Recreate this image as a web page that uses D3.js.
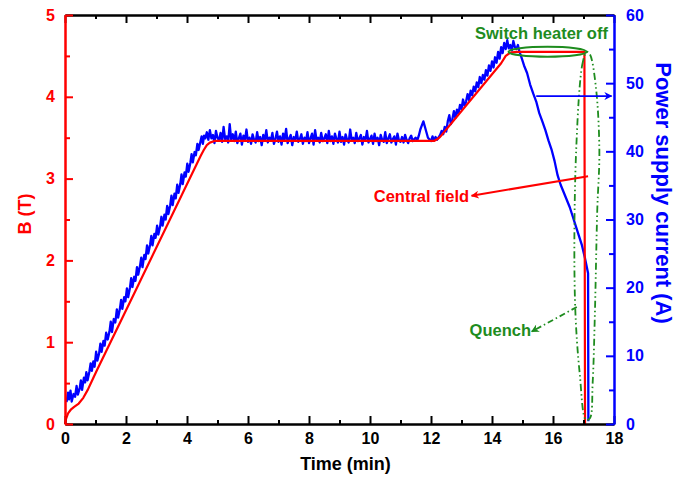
<!DOCTYPE html>
<html>
<head>
<meta charset="utf-8">
<script src="https://cdn.jsdelivr.net/npm/d3@7"></script>
<style>
  body { margin: 0; background: #fff; }
  svg text { font-family: "Liberation Sans", Arial, sans-serif; font-weight: bold; }
</style>
</head>
<body>
<div id="vis-holder"></div>
<script>
// tick values
const timeTicks = [0, 2, 4, 6, 8, 10, 12, 14, 16, 18];
const timeMinor = [1, 3, 5, 7, 9, 11, 13, 15, 17];
const fieldTicks = [0, 1, 2, 3, 4, 5];
const fieldMinor = [0.5, 1.5, 2.5, 3.5, 4.5];
const currentTicks = [0, 10, 20, 30, 40, 50, 60];
const currentMinor = [5, 15, 25, 35, 45, 55];

// central field B (T) vs time (min)
const fieldData = [
  [0, 0], [0.04, 0.07], [0.1, 0.13], [0.2, 0.18], [0.3, 0.21], [0.45, 0.25],
  [0.6, 0.32], [0.75, 0.42], [0.9, 0.54], [1.05, 0.66], [2.3, 1.62], [4.45, 3.28],
  [4.55, 3.35], [4.65, 3.41], [4.75, 3.44], [4.9, 3.46], [12.1, 3.46], [12.2, 3.48],
  [12.3, 3.51], [14.3, 4.41], [14.45, 4.5], [14.6, 4.54], [14.8, 4.55], [17.03, 4.55],
  [17.05, 0]
];

// power supply current (A) vs time (min)
const currentData = [
  // first ramp
  [0.05, 3.2], [0.1, 4.6], [0.13, 3.6], [0.18, 4.9], [0.22, 3.3], [0.28, 4.4], [0.33, 4.0],
  [0.38, 5.6], [0.42, 4.3], [0.48, 5.2], [0.52, 6.4], [0.56, 5.0], [0.62, 6.8], [0.66, 6.1],
  [0.7, 7.6], [0.74, 6.4], [0.8, 7.7], [0.84, 8.9], [0.88, 7.8], [0.93, 9.2], [0.97, 8.4],
  [1.02, 10.6], [1.06, 9.3], [1.12, 10.4], [1.16, 11.8], [1.2, 10.6], [1.26, 12.2], [1.3, 11.5],
  [1.35, 13.4], [1.4, 12.4], [1.46, 13.6], [1.5, 15.0], [1.54, 13.5], [1.6, 15.4], [1.65, 14.9],
  [1.7, 16.8], [1.74, 15.6], [1.8, 16.9], [1.84, 18.2], [1.88, 16.9], [1.94, 18.6], [1.98, 18.0],
  [2.03, 19.9], [2.07, 18.6], [2.13, 20.0], [2.17, 21.4], [2.21, 20.1], [2.27, 21.6], [2.31, 21.0],
  [2.36, 23.0], [2.4, 21.9], [2.46, 23.2], [2.5, 24.4], [2.54, 23.0], [2.6, 24.8], [2.64, 24.2],
  [2.69, 26.2], [2.73, 25.0], [2.79, 26.3], [2.83, 27.6], [2.87, 26.2], [2.93, 27.9], [2.97, 27.3],
  [3.02, 29.1], [3.06, 27.8], [3.12, 29.0], [3.16, 30.4], [3.2, 29.1], [3.26, 30.7], [3.3, 30.0],
  [3.35, 32.0], [3.39, 30.8], [3.45, 32.1], [3.49, 33.5], [3.53, 32.1], [3.59, 33.8], [3.63, 33.1],
  [3.68, 35.1], [3.72, 33.9], [3.78, 35.2], [3.82, 36.6], [3.86, 35.2], [3.92, 36.9], [3.96, 36.3],
  [4.01, 38.2], [4.05, 37.0], [4.11, 38.3], [4.15, 39.6], [4.19, 38.4], [4.25, 39.9], [4.29, 39.4],
  [4.34, 41.1], [4.38, 40.2], [4.44, 41.4], [4.48, 42.2], [4.52, 41.1], [4.56, 42.3],
  // first plateau
  [4.6, 41.9], [4.65, 42.8], [4.7, 41.7], [4.75, 43.1], [4.8, 41.9], [4.85, 42.4], [4.9, 41.2],
  [4.95, 43.0], [5.0, 42.0], [5.05, 41.6], [5.1, 42.7], [5.15, 41.4], [5.2, 43.6], [5.25, 41.8],
  [5.3, 42.2], [5.35, 41.3], [5.4, 44.0], [5.45, 41.7], [5.5, 42.5], [5.55, 41.5], [5.6, 42.9],
  [5.65, 41.2], [5.7, 41.9], [5.75, 42.6], [5.8, 41.0], [5.85, 42.3], [5.9, 41.6], [5.95, 43.2],
  [6.0, 41.4], [6.05, 42.0], [6.1, 41.1], [6.15, 42.5], [6.2, 41.7], [6.25, 41.3], [6.3, 42.8],
  [6.35, 41.5], [6.4, 42.1], [6.45, 40.9], [6.5, 42.4], [6.55, 41.6], [6.6, 43.1], [6.65, 41.3],
  [6.7, 42.0], [6.75, 41.6], [6.8, 42.7], [6.85, 41.1], [6.9, 41.8], [6.95, 42.9], [7.0, 41.4],
  [7.05, 42.2], [7.1, 41.0], [7.15, 42.6], [7.2, 41.7], [7.25, 43.3], [7.3, 41.2], [7.35, 41.9],
  [7.4, 42.4], [7.45, 40.9], [7.5, 42.1], [7.55, 41.6], [7.6, 42.9], [7.65, 41.4], [7.7, 41.8],
  [7.75, 42.5], [7.8, 41.1], [7.85, 42.0], [7.9, 41.5], [7.95, 42.8], [8.0, 41.2], [8.05, 41.9],
  [8.1, 42.6], [8.15, 41.0], [8.2, 43.1], [8.25, 41.6], [8.3, 42.0], [8.35, 41.3], [8.4, 42.7],
  [8.45, 41.5], [8.5, 41.9], [8.55, 42.5], [8.6, 41.2], [8.65, 43.0], [8.7, 41.5], [8.75, 42.2],
  [8.8, 41.1], [8.85, 42.6], [8.9, 41.8], [8.95, 41.3], [9.0, 42.9], [9.05, 41.4], [9.1, 42.1],
  [9.15, 41.0], [9.2, 42.5], [9.25, 41.7], [9.3, 41.3], [9.35, 43.2], [9.4, 41.6], [9.45, 42.0],
  [9.5, 41.2], [9.55, 42.7], [9.6, 41.5], [9.65, 41.9], [9.7, 42.4], [9.75, 41.0], [9.8, 42.1],
  [9.85, 41.6], [9.9, 43.0], [9.95, 41.3], [10.0, 41.8], [10.05, 42.3], [10.1, 41.1], [10.15, 42.6],
  [10.2, 41.5], [10.25, 42.0], [10.3, 40.9], [10.35, 42.4], [10.4, 41.7], [10.45, 41.4], [10.5, 42.8],
  [10.55, 41.2], [10.6, 41.9], [10.65, 42.5], [10.7, 41.3], [10.75, 41.8], [10.8, 42.2], [10.85, 41.0],
  [10.9, 42.6], [10.95, 41.6], [11.0, 41.4], [11.05, 42.1], [11.1, 41.3], [11.15, 42.4], [11.2, 41.7],
  [11.25, 41.2], [11.3, 41.9], [11.35, 42.3], [11.4, 41.5], [11.45, 41.8], [11.5, 42.0], [11.55, 41.6],
  [11.6, 42.3], [11.65, 43.2], [11.7, 43.8], [11.75, 44.4], [11.8, 43.6], [11.85, 42.8], [11.9, 42.0],
  [12.0, 41.5], [12.05, 42.2], [12.1, 41.6], [12.15, 42.1], [12.2, 41.7], [12.3, 42.4],
  // second ramp
  [12.35, 43.0], [12.4, 42.5], [12.45, 43.6], [12.5, 42.9], [12.55, 44.4], [12.6, 45.3], [12.65, 44.0],
  [12.7, 44.7], [12.75, 45.9], [12.8, 44.9], [12.85, 46.1], [12.9, 45.5], [12.95, 46.8], [13.0, 46.2],
  [13.05, 47.6], [13.1, 46.7], [13.15, 47.3], [13.2, 48.4], [13.25, 47.5], [13.3, 48.9], [13.35, 48.2],
  [13.4, 49.5], [13.45, 48.8], [13.5, 50.1], [13.55, 49.4], [13.6, 50.9], [13.65, 50.0], [13.7, 51.2],
  [13.75, 50.5], [13.8, 51.9], [13.85, 51.1], [13.9, 52.6], [13.95, 51.8], [14.0, 53.2], [14.05, 52.3],
  [14.1, 53.8], [14.15, 53.0], [14.2, 54.6], [14.25, 53.6], [14.3, 55.3], [14.35, 54.4], [14.4, 55.9],
  [14.45, 55.0], [14.5, 56.3], [14.55, 55.1], [14.6, 55.6], [14.65, 54.8], [14.7, 56.2], [14.75, 55.3],
  [14.8, 55.0], [14.85, 55.6], [14.9, 54.6],
  // discharge and quench
  [14.95, 54.0], [15.05, 52.6], [15.15, 51.5], [15.25, 49.8], [15.35, 48.5], [15.45, 47.3],
  [15.55, 45.6], [15.65, 44.4], [15.75, 43.1], [15.85, 41.6], [15.95, 40.3], [16.05, 38.6],
  [16.15, 36.5], [16.25, 35.1], [16.35, 34.0], [16.45, 32.9], [16.55, 31.8], [16.65, 30.4],
  [16.75, 29.0], [16.85, 27.6], [16.95, 26.2], [17.05, 24.3], [17.15, 22.1], [17.16, 0.4]
];

const red = "#ff0000", blue = "#0000ff", green = "#1e8c1e";

const width = 686, height = 478;
const margin = { top: 15, right: 72, bottom: 54, left: 65 };

const svg = d3.select("#vis-holder")
  .append("svg")
  .attr("width", width)
  .attr("height", height);

const x = d3.scaleLinear().domain([0, 18]).range([margin.left, width - margin.right]);
const yB = d3.scaleLinear().domain([0, 5]).range([height - margin.bottom, margin.top]);
const yI = d3.scaleLinear().domain([0, 60]).range([height - margin.bottom, margin.top]);

const defs = svg.append("defs");
function marker(id, color) {
  defs.append("marker")
    .attr("id", id)
    .attr("viewBox", "0 0 10 10")
    .attr("refX", 9).attr("refY", 5)
    .attr("markerWidth", 12).attr("markerHeight", 8)
    .attr("markerUnits", "userSpaceOnUse")
    .attr("orient", "auto")
    .append("path")
    .attr("d", "M0,0 L10,5 L0,10 L3,5 Z")
    .attr("fill", color);
}
marker("arrRed", red);
marker("arrBlue", blue);
marker("arrGreen", green);

// curves
const lineB = d3.line().x(d => x(d[0])).y(d => yB(d[1]));
const lineI = d3.line().x(d => x(d[0])).y(d => yI(d[1]));

svg.append("path")
  .datum(currentData)
  .attr("d", lineI)
  .attr("fill", "none")
  .attr("stroke", blue)
  .attr("stroke-width", 2.3)
  .attr("stroke-linejoin", "round");

svg.append("path")
  .datum(fieldData)
  .attr("d", lineB)
  .attr("fill", "none")
  .attr("stroke", red)
  .attr("stroke-width", 2.2)
  .attr("stroke-linejoin", "round");

// axes
function styleAxis(g, color, size) {
  g.select(".domain").attr("stroke", color).attr("stroke-width", 2);
  g.selectAll(".tick line").attr("stroke", color).attr("stroke-width", 2);
  g.selectAll(".tick text").attr("fill", color).attr("font-size", size);
  g.attr("font-family", null);
}

const bottom = height - margin.bottom;
svg.append("g")
  .attr("transform", `translate(0,${bottom})`)
  .call(d3.axisBottom(x).tickValues(timeMinor).tickSize(-4).tickSizeOuter(0).tickFormat(""))
  .call(g => styleAxis(g, "#000", 16));
svg.append("g")
  .attr("transform", `translate(0,${bottom})`)
  .call(d3.axisBottom(x).tickValues(timeTicks).tickSize(-8).tickSizeOuter(0).tickPadding(9))
  .call(g => styleAxis(g, "#000", 16));

svg.append("g")
  .attr("transform", `translate(0,${margin.top})`)
  .call(d3.axisTop(x).tickValues(timeMinor).tickSize(-4).tickSizeOuter(0).tickFormat(""))
  .call(g => styleAxis(g, "#000", 16));
svg.append("g")
  .attr("transform", `translate(0,${margin.top})`)
  .call(d3.axisTop(x).tickValues(timeTicks).tickSize(-8).tickSizeOuter(0).tickFormat(""))
  .call(g => styleAxis(g, "#000", 16));

svg.append("g")
  .attr("transform", `translate(${margin.left},0)`)
  .call(d3.axisLeft(yB).tickValues(fieldMinor).tickSize(-5).tickSizeOuter(0).tickFormat(""))
  .call(g => styleAxis(g, red, 16));
svg.append("g")
  .attr("transform", `translate(${margin.left},0)`)
  .call(d3.axisLeft(yB).tickValues(fieldTicks).tickSize(-8).tickSizeOuter(0).tickPadding(10)
    .tickFormat(d3.format("d")))
  .call(g => styleAxis(g, red, 16));

const right = width - margin.right;
svg.append("g")
  .attr("transform", `translate(${right},0)`)
  .call(d3.axisRight(yI).tickValues(currentMinor).tickSize(-5).tickSizeOuter(0).tickFormat(""))
  .call(g => styleAxis(g, blue, 16));
svg.append("g")
  .attr("transform", `translate(${right},0)`)
  .call(d3.axisRight(yI).tickValues(currentTicks).tickSize(-8).tickSizeOuter(0).tickPadding(12))
  .call(g => styleAxis(g, blue, 16));

// axis titles
svg.append("text")
  .attr("x", (margin.left + right) / 2 + 6)
  .attr("y", 470)
  .attr("text-anchor", "middle")
  .attr("font-size", 18)
  .attr("fill", "#000")
  .text("Time (min)");

svg.append("text")
  .attr("transform", "translate(31,214) rotate(-90)")
  .attr("text-anchor", "middle")
  .attr("font-size", 18)
  .attr("fill", red)
  .text("B (T)");

svg.append("text")
  .attr("transform", "translate(656,193) rotate(90)")
  .attr("text-anchor", "middle")
  .attr("font-size", 22)
  .attr("fill", blue)
  .text("Power supply current (A)");

// annotations (positions in data units: time, B)
const heaterEllipse = { t: 15.82, b: 4.55, rt: 1.28, rb: 0.061 };
svg.append("ellipse")
  .attr("cx", x(heaterEllipse.t))
  .attr("cy", yB(heaterEllipse.b))
  .attr("rx", x(heaterEllipse.rt) - x(0))
  .attr("ry", yB(0) - yB(heaterEllipse.rb))
  .attr("fill", "none")
  .attr("stroke", green)
  .attr("stroke-width", 2);

const quenchLoop = [
  [17.11, 4.55], [16.98, 4.43], [16.76, 3.35], [16.72, 1.52], [16.88, 0.6], [17.08, 0.05],
  [17.21, 0.07], [17.3, 0.5], [17.37, 1.3], [17.45, 2.6], [17.52, 3.35], [17.4, 4.14],
  [17.21, 4.52]
];
svg.append("path")
  .datum(quenchLoop)
  .attr("d", d3.line().x(d => x(d[0])).y(d => yB(d[1])).curve(d3.curveCatmullRomClosed))
  .attr("fill", "none")
  .attr("stroke", green)
  .attr("stroke-width", 1.8)
  .attr("stroke-dasharray", "7,3,1.5,3,1.5,3");

svg.append("text")
  .attr("x", x(17.8))
  .attr("y", yB(4.54) - 14)
  .attr("text-anchor", "end")
  .attr("font-size", 16.5)
  .attr("fill", green)
  .text("Switch heater off");

// red arrow: central field
svg.append("line")
  .attr("x1", x(17.15)).attr("y1", yB(3.03))
  .attr("x2", x(13.33)).attr("y2", yB(2.79))
  .attr("stroke", red).attr("stroke-width", 2)
  .attr("marker-end", "url(#arrRed)");
svg.append("text")
  .attr("x", x(13.25))
  .attr("y", yB(2.71))
  .attr("text-anchor", "end")
  .attr("font-size", 16.5)
  .attr("fill", red)
  .text("Central field");

// blue arrow: current axis
svg.append("line")
  .attr("x1", x(15.45)).attr("y1", yI(48.1))
  .attr("x2", x(17.92)).attr("y2", yI(48.1))
  .attr("stroke", blue).attr("stroke-width", 1.8)
  .attr("marker-end", "url(#arrBlue)");

// green arrow: quench
svg.append("line")
  .attr("x1", x(16.78)).attr("y1", yB(1.43))
  .attr("x2", x(15.3)).attr("y2", yB(1.13))
  .attr("stroke", green).attr("stroke-width", 1.8)
  .attr("stroke-dasharray", "6,3,1.5,3")
  .attr("marker-end", "url(#arrGreen)");
svg.append("text")
  .attr("x", x(15.28))
  .attr("y", yB(1.08))
  .attr("text-anchor", "end")
  .attr("font-size", 16.5)
  .attr("fill", green)
  .text("Quench");
</script>
</body>
</html>
